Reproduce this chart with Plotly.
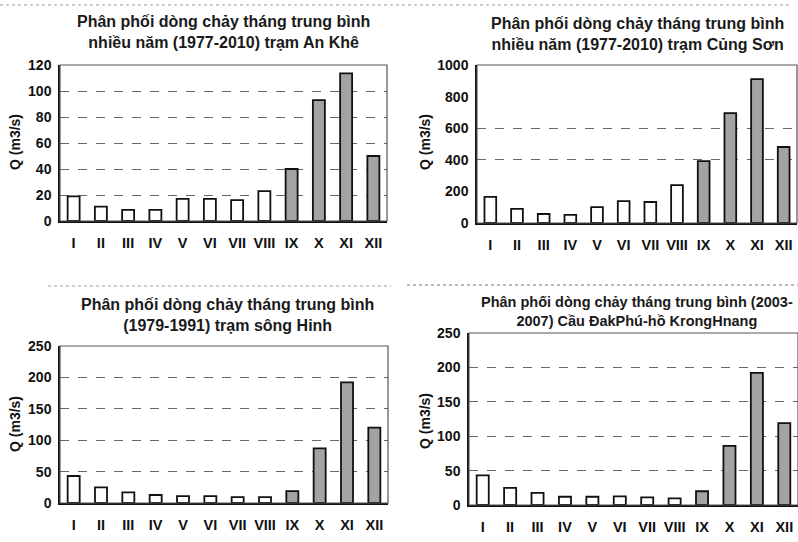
import plotly.graph_objects as go

months = ["I", "II", "III", "IV", "V", "VI", "VII", "VIII", "IX", "X", "XI", "XII"]

q_an_khe = [19, 11, 8.5, 8.5, 17, 17, 16, 23, 40, 93, 113.5, 50]
q_cung_son = [165, 89, 57, 51, 101, 139, 133, 240, 392, 696, 911, 481]
q_song_hinh = [43, 25, 17, 12.7, 11, 11, 9.5, 9.5, 19, 87, 192, 120]
q_dak_phu = [43, 25, 17.5, 12, 12, 12.5, 11, 9.7, 20, 86, 192, 119]

flood_months = ["IX", "X", "XI", "XII"]

titles = [
    "Phân phối dòng chảy tháng trung bình<br>nhiều năm (1977-2010) trạm An Khê",
    "Phân phối dòng chảy tháng trung bình<br>nhiều năm (1977-2010) trạm Củng Sơn",
    "Phân phối dòng chảy tháng trung bình<br>(1979-1991) trạm sông Hinh",
    "Phân phối dòng chảy tháng trung bình (2003-<br>2007) Cầu ĐakPhú-hồ KrongHnang",
]
y_title = "Q (m3/s)"

W, H = 798, 542
def px(x):
    return x / W
def py(y):
    return 1 - y / H

panels = [
    dict(data=q_an_khe, xd=[px(60), px(387)], yd=[py(221), py(65)], rng=[0, 120], dt=20,
         grid=None, tx=px(223), ty=py(31.5), tsize=16, yt=(px(15), py(142))),
    dict(data=q_cung_son, xd=[px(477), px(797)], yd=[py(223), py(65)], rng=[0, 1000], dt=200,
         grid=[400, 600], tx=px(637), ty=py(33.5), tsize=16, yt=(px(425), py(142))),
    dict(data=q_song_hinh, xd=[px(60), px(388)], yd=[py(503), py(346)], rng=[0, 250], dt=50,
         grid=None, tx=px(227), ty=py(315), tsize=16, yt=(px(15), py(424))),
    dict(data=q_dak_phu, xd=[px(469), 1.0], yd=[py(505), py(333)], rng=[0, 250], dt=50,
         grid=None, tx=px(637), ty=py(311), tsize=14.5, yt=(px(425), py(421))),
]

fig = go.Figure()
font_family = "Liberation Sans, Arial, sans-serif"
annotations = []
shapes = []

for i, p in enumerate(panels):
    n = "" if i == 0 else str(i + 1)
    colors = ["#a3a3a3" if m in flood_months else "white" for m in months]
    fig.add_trace(go.Bar(
        x=months, y=p["data"], xaxis="x" + n, yaxis="y" + n,
        marker=dict(color=colors, line=dict(color="#111", width=1.8)),
        width=0.44, showlegend=False, hoverinfo="x+y",
    ))
    xa = dict(domain=p["xd"], anchor="y" + n, type="category", automargin=False,
              showline=True, linecolor="#111", linewidth=1.5,
              ticks="outside", ticklen=8, tickcolor="rgba(0,0,0,0)",
              tickfont=dict(family=font_family, size=14.5, color="#111", weight="bold"),
              showgrid=False, fixedrange=True)
    ya = dict(domain=p["yd"], anchor="x" + n, range=p["rng"], dtick=p["dt"], tick0=0,
              automargin=False,
              showline=True, linecolor="#111", linewidth=1.5,
              ticks="outside", ticklen=4, tickcolor="rgba(0,0,0,0)",
              tickfont=dict(family=font_family, size=14, color="#111", weight="bold"),
              zeroline=False, fixedrange=True)
    if p["grid"] is None:
        ya.update(showgrid=True, gridcolor="#666", griddash="dash", gridwidth=1)
    else:
        ya.update(showgrid=False,
                  minor=dict(tickmode="array", tickvals=p["grid"], showgrid=True,
                             gridcolor="#666", griddash="dash", gridwidth=1, ticks=""))
    fig.update_layout(**{"xaxis" + n: xa, "yaxis" + n: ya})

    annotations.append(dict(text="<b>" + titles[i] + "</b>", x=p["tx"], y=p["ty"],
                            xref="paper", yref="paper", xanchor="center", yanchor="middle",
                            showarrow=False, align="center",
                            font=dict(family=font_family, size=p["tsize"], color="#1a1a1a")))
    annotations.append(dict(text="<b>" + y_title + "</b>", x=p["yt"][0], y=p["yt"][1],
                            xref="paper", yref="paper", xanchor="center", yanchor="middle",
                            textangle=-90, showarrow=False,
                            font=dict(family=font_family, size=14, color="#111")))
    shapes.append(dict(type="rect", xref="x" + n + " domain", yref="y" + n + " domain",
                       x0=0, x1=1, y0=0, y1=1, line=dict(color="#555", width=1.2),
                       layer="above"))

# scanned page separators
shapes.append(dict(type="line", xref="paper", yref="paper", x0=0.0, x1=0.99, y0=py(5), y1=py(5),
                   line=dict(color="#999", width=1, dash="dot")))
shapes.append(dict(type="line", xref="paper", yref="paper", x0=0.06, x1=0.49, y0=py(286), y1=py(286),
                   line=dict(color="#999", width=1, dash="dot")))
shapes.append(dict(type="line", xref="paper", yref="paper", x0=0.51, x1=1.0, y0=py(285), y1=py(285),
                   line=dict(color="#777", width=1, dash="dot")))

fig.update_layout(
    width=W, height=H,
    margin=dict(l=0, r=0, t=0, b=0, autoexpand=False),
    paper_bgcolor="white", plot_bgcolor="white",
    annotations=annotations, shapes=shapes,
    font=dict(family=font_family),
)

fig.write_html("out.html", config={"displayModeBar": False},
               post_script="document.body.style.margin='0';document.body.style.overflow='hidden';")
